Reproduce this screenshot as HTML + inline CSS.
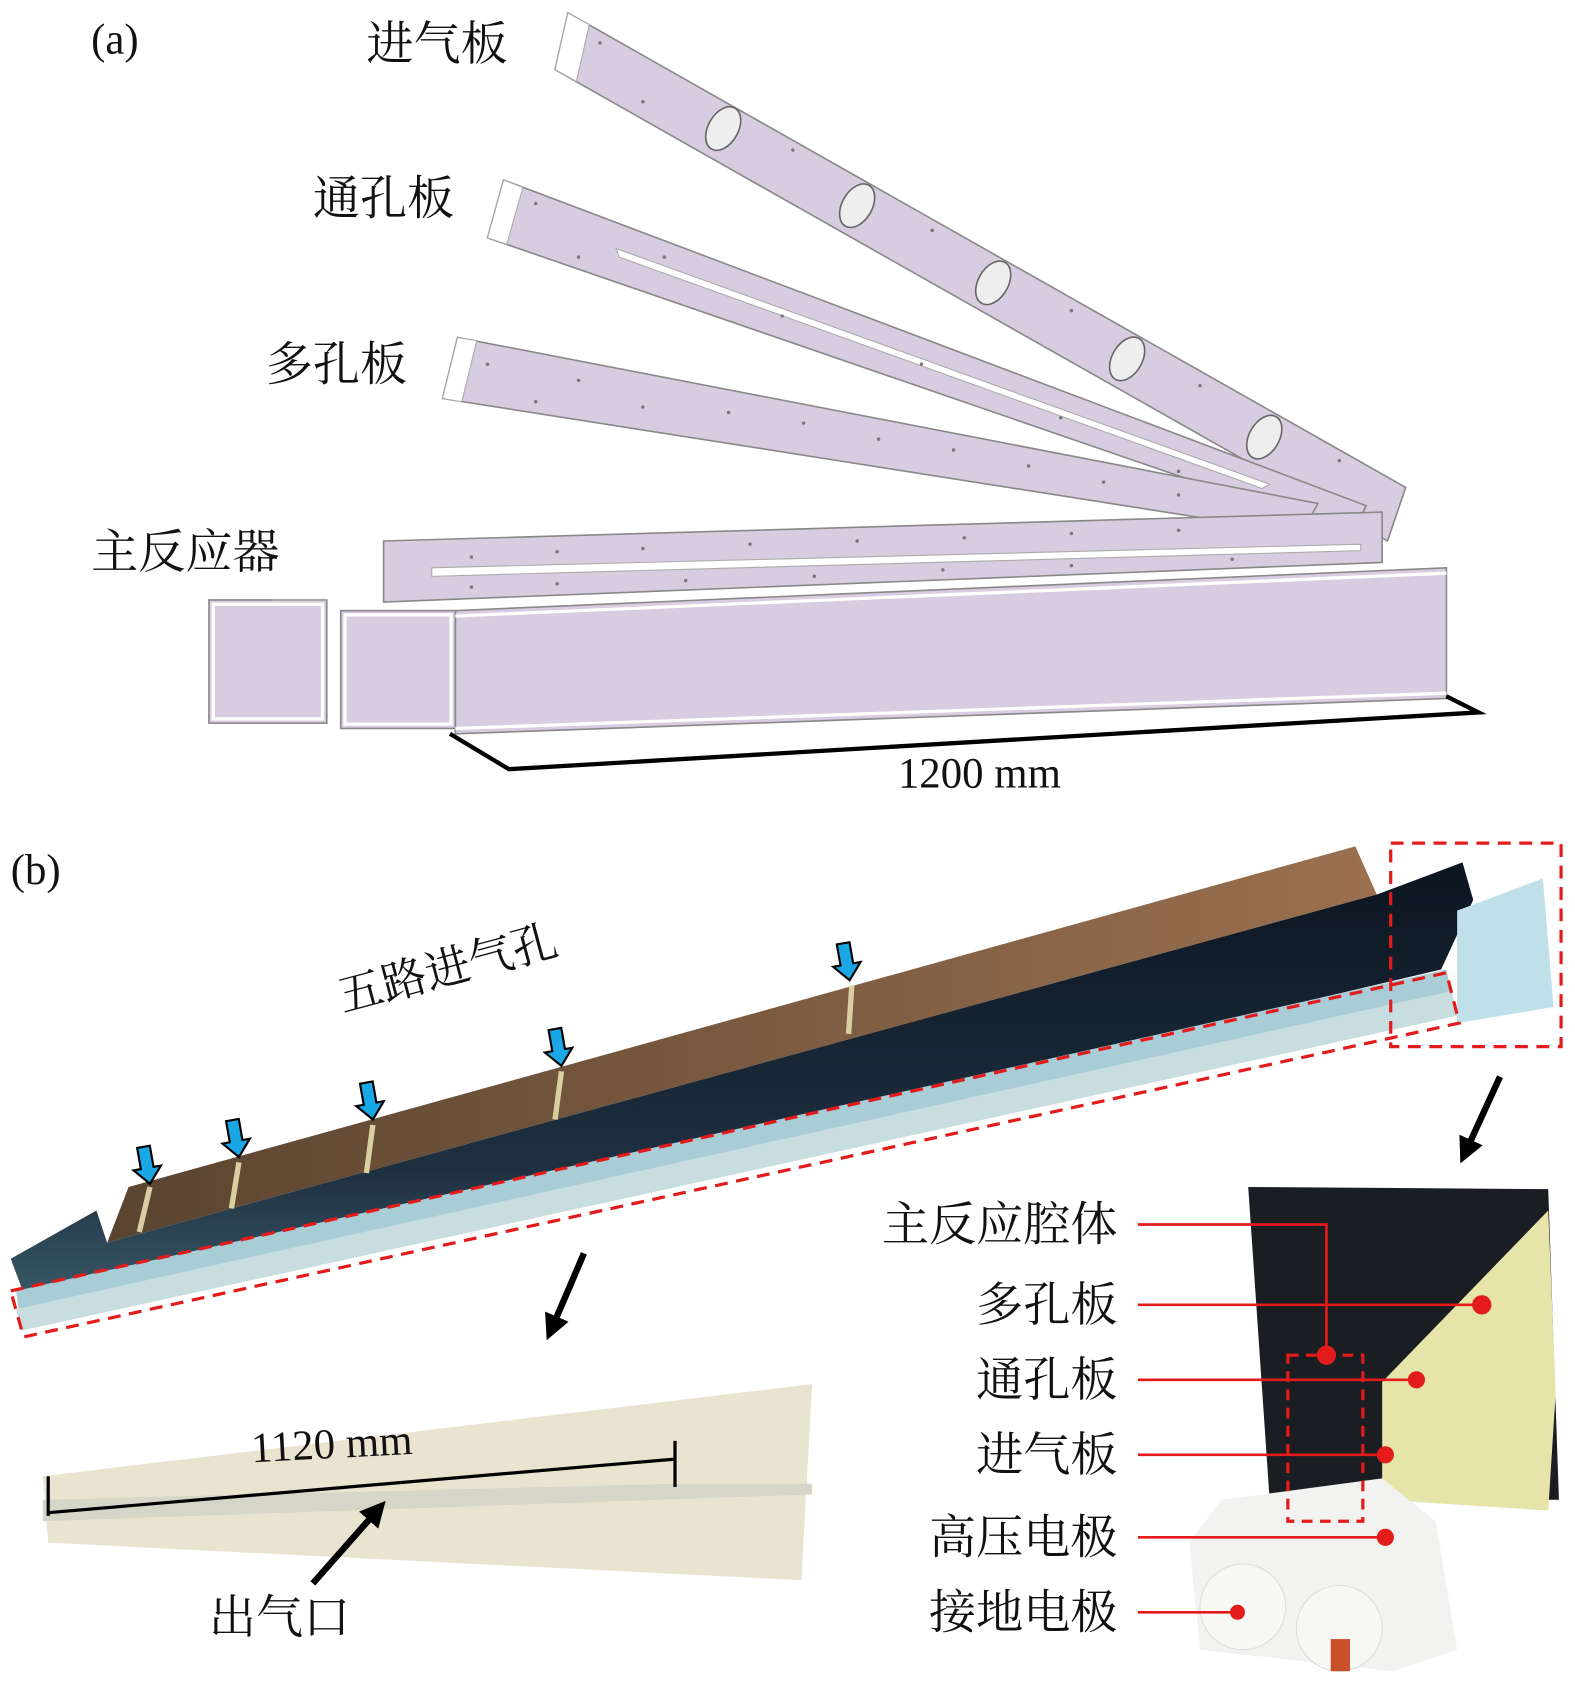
<!DOCTYPE html>
<html><head><meta charset="utf-8"><style>
html,body{margin:0;padding:0;background:#fff}
svg{display:block}
text{font-family:"Liberation Serif","Noto Serif CJK SC",serif;fill:#111}
</style></head><body>
<svg width="1575" height="1683" viewBox="0 0 1470 1571" preserveAspectRatio="none" xmlns="http://www.w3.org/2000/svg">
<defs>
<linearGradient id="blk" x1="0" y1="0" x2="0" y2="1"><stop offset="0" stop-color="#0c1520"/><stop offset="0.7" stop-color="#1e3040"/><stop offset="1" stop-color="#3a5a68"/></linearGradient>
<linearGradient id="cop" x1="0" y1="0" x2="1" y2="0"><stop offset="0" stop-color="#5a4430"/><stop offset="1" stop-color="#9a7050"/></linearGradient>
<marker id="ah" markerWidth="4" markerHeight="4" refX="2" refY="2" orient="auto" markerUnits="strokeWidth"><path d="M0,0 L4,2 L0,4 z" fill="#000"/></marker>
</defs>
<!-- (a) -->
<text x="85" y="50" font-size="40">(a)</text>
<text x="342" y="56" font-size="44">进气板</text>
<text x="292" y="200" font-size="44">通孔板</text>
<text x="248" y="355" font-size="44">多孔板</text>
<text x="85" y="530" font-size="44">主反应器</text>

<g stroke="#888" stroke-width="1.5" fill="#d8cde0">
<polygon points="530,12 1312,455 1295,505 518,65"/>
<polygon points="470,168 1275,472 1262,500 455,222"/>
<polygon points="427,315 1230,470 1215,498 413,372"/>
<polygon points="358,505 1290,478 1290,525 358,562"/>
<polygon points="425,570 1350,530 1350,652 425,685"/>
<rect x="195" y="560" width="110" height="115"/>
<rect x="318" y="570" width="107" height="110"/>
</g>
<g fill="none" stroke="#fff" stroke-width="3">
<rect x="199" y="564" width="102" height="107"/>
<rect x="322" y="574" width="99" height="102"/>
<line x1="425" y1="575" x2="1350" y2="535"/>
<line x1="425" y1="680" x2="1350" y2="647"/>
</g>
<g fill="#fff" stroke="#aaa">
<polygon points="530,12 550,23 538,76 518,65"/>
<polygon points="470,168 488,175 473,228 455,222"/>
<polygon points="427,315 445,318 431,375 413,372"/>
<polygon points="575,232 1185,452 1178,456 578,240"/>
<polygon points="403,530 1270,508 1270,514 403,538"/>
</g>
<g fill="#777">
<circle cx="560" cy="40" r="1.6"/><circle cx="600" cy="95" r="1.6"/><circle cx="740" cy="140" r="1.6"/><circle cx="870" cy="215" r="1.6"/><circle cx="1000" cy="290" r="1.6"/><circle cx="1120" cy="360" r="1.6"/><circle cx="1250" cy="430" r="1.6"/>
<circle cx="500" cy="190" r="1.6"/><circle cx="540" cy="240" r="1.6"/><circle cx="620" cy="240" r="1.6"/><circle cx="730" cy="295" r="1.6"/><circle cx="860" cy="340" r="1.6"/><circle cx="990" cy="390" r="1.6"/><circle cx="1100" cy="440" r="1.6"/>
<circle cx="455" cy="340" r="1.6"/><circle cx="500" cy="375" r="1.6"/><circle cx="540" cy="355" r="1.6"/><circle cx="600" cy="380" r="1.6"/><circle cx="680" cy="385" r="1.6"/><circle cx="750" cy="395" r="1.6"/><circle cx="820" cy="410" r="1.6"/><circle cx="890" cy="420" r="1.6"/><circle cx="960" cy="435" r="1.6"/><circle cx="1030" cy="450" r="1.6"/><circle cx="1100" cy="462" r="1.6"/>
<circle cx="440" cy="520" r="1.6"/><circle cx="520" cy="515" r="1.6"/><circle cx="600" cy="512" r="1.6"/><circle cx="700" cy="508" r="1.6"/><circle cx="800" cy="505" r="1.6"/><circle cx="900" cy="502" r="1.6"/><circle cx="1000" cy="498" r="1.6"/><circle cx="1100" cy="495" r="1.6"/>
<circle cx="440" cy="548" r="1.6"/><circle cx="520" cy="545" r="1.6"/><circle cx="640" cy="542" r="1.6"/><circle cx="760" cy="538" r="1.6"/><circle cx="880" cy="532" r="1.6"/><circle cx="1000" cy="528" r="1.6"/><circle cx="1150" cy="522" r="1.6"/>
</g>
<g fill="#eee" stroke="#666" stroke-width="1.5">
<ellipse cx="675" cy="120" rx="14" ry="22" transform="rotate(30 675 120)"/>
<ellipse cx="800" cy="192" rx="14" ry="22" transform="rotate(30 800 192)"/>
<ellipse cx="927" cy="264" rx="14" ry="22" transform="rotate(30 927 264)"/>
<ellipse cx="1052" cy="335" rx="14" ry="22" transform="rotate(30 1052 335)"/>
<ellipse cx="1180" cy="408" rx="14" ry="22" transform="rotate(30 1180 408)"/>
</g>
<polyline points="420,685 475,718 1380,665 1350,650" fill="none" stroke="#000" stroke-width="4"/>
<polyline points="305,560 255,560" fill="none" stroke="#aaa" stroke-width="2"/>
<text x="838" y="735" font-size="40">1200 mm</text>

<!-- (b) -->
<text x="10" y="825" font-size="40">(b)</text>
<polygon points="120,1108 1265,790 1285,835 100,1160" fill="url(#cop)"/>
<polygon points="10,1175 90,1130 100,1160 1285,835 1365,805 1375,840 1345,905 25,1215" fill="url(#blk)"/>
<polygon points="15,1205 1350,905 1360,948 20,1242" fill="#a9cdd6"/>
<polygon points="15,1222 1355,925 1360,948 20,1242" fill="#c8dde0"/>
<polygon points="1360,850 1440,820 1450,940 1360,955" fill="#bfe0e8"/>
<polygon points="10,1205 1350,908 1362,955 22,1248" fill="none" stroke="#e41b1b" stroke-width="3" stroke-dasharray="12,8"/>
<rect x="1298" y="787" width="159" height="190" fill="none" stroke="#e41b1b" stroke-width="3" stroke-dasharray="12,8"/>
<g stroke="#d8d0a0" stroke-width="5">
<line x1="140" y1="1108" x2="130" y2="1150"/><line x1="223" y1="1085" x2="216" y2="1128"/><line x1="348" y1="1050" x2="342" y2="1095"/><line x1="524" y1="1000" x2="518" y2="1045"/><line x1="795" y1="920" x2="792" y2="965"/>
</g>
<text x="0" y="0" font-size="42" transform="translate(320,945) rotate(-15)">五路进气孔</text>
<g fill="#19a7e6" stroke="#000" stroke-width="2">
<path d="M-6,-35 L6,-35 L6,-15 L13,-15 L0,0 L-13,-15 L-6,-15 z" transform="translate(140,1105) rotate(-10)"/>
<path d="M-6,-35 L6,-35 L6,-15 L13,-15 L0,0 L-13,-15 L-6,-15 z" transform="translate(223,1080) rotate(-10)"/>
<path d="M-6,-35 L6,-35 L6,-15 L13,-15 L0,0 L-13,-15 L-6,-15 z" transform="translate(348,1045) rotate(-10)"/>
<path d="M-6,-35 L6,-35 L6,-15 L13,-15 L0,0 L-13,-15 L-6,-15 z" transform="translate(524,995) rotate(-10)"/>
<path d="M-6,-35 L6,-35 L6,-15 L13,-15 L0,0 L-13,-15 L-6,-15 z" transform="translate(793,915) rotate(-10)"/>
</g>
<line x1="1400" y1="1005" x2="1368" y2="1075" stroke="#000" stroke-width="6" marker-end="url(#ah)"/>
<line x1="545" y1="1170" x2="515" y2="1240" stroke="#000" stroke-width="6" marker-end="url(#ah)"/>

<!-- bottom left photo -->
<polygon points="40,1378 758,1292 748,1475 45,1440" fill="#e8e4d0"/>
<polygon points="40,1400 630,1385 758,1385 758,1395 40,1420" fill="#d6d6c8"/>
<line x1="45" y1="1412" x2="630" y2="1362" stroke="#000" stroke-width="3"/>
<line x1="45" y1="1378" x2="45" y2="1415" stroke="#000" stroke-width="3"/>
<line x1="630" y1="1345" x2="630" y2="1388" stroke="#000" stroke-width="3"/>
<text x="0" y="0" font-size="40" transform="translate(235,1365) rotate(-3)">1120 mm</text>
<line x1="292" y1="1478" x2="352" y2="1410" stroke="#000" stroke-width="6" marker-end="url(#ah)"/>
<text x="195" y="1525" font-size="44">出气口</text>

<!-- bottom right photo -->
<polygon points="1165,1108 1445,1110 1455,1400 1290,1400 1290,1420 1185,1400" fill="#1a1d22"/>
<polygon points="1290,1290 1445,1130 1452,1300 1445,1410 1290,1400" fill="#e6e4a8"/>
<polygon points="1140,1400 1290,1380 1340,1420 1360,1540 1300,1560 1120,1540 1110,1440" fill="#f2f2f0"/>
<circle cx="1160" cy="1500" r="40" fill="#f7f7f5" stroke="#ddd"/>
<circle cx="1250" cy="1520" r="40" fill="#f7f7f5" stroke="#ddd"/>
<rect x="1242" y="1530" width="18" height="30" fill="#c8502a"/>
<rect x="1202" y="1265" width="70" height="155" fill="none" stroke="#e41b1b" stroke-width="3" stroke-dasharray="10,7"/>
<g stroke="#e41b1b" stroke-width="2.5" fill="none">
<polyline points="1062,1143 1238,1143 1238,1265"/>
<line x1="1062" y1="1218" x2="1383" y2="1218"/>
<line x1="1062" y1="1288" x2="1322" y2="1288"/>
<line x1="1062" y1="1358" x2="1293" y2="1358"/>
<line x1="1062" y1="1435" x2="1293" y2="1435"/>
<line x1="1062" y1="1505" x2="1155" y2="1505"/>
</g>
<g fill="#e41b1b">
<circle cx="1238" cy="1265" r="9"/><circle cx="1383" cy="1218" r="9"/><circle cx="1322" cy="1288" r="8"/>
<circle cx="1293" cy="1358" r="8"/><circle cx="1293" cy="1435" r="8"/><circle cx="1155" cy="1505" r="7"/>
</g>
<g font-size="44" text-anchor="end">
<text x="1043" y="1158">主反应腔体</text>
<text x="1043" y="1233">多孔板</text>
<text x="1043" y="1303">通孔板</text>
<text x="1043" y="1373">进气板</text>
<text x="1043" y="1450">高压电极</text>
<text x="1043" y="1520">接地电极</text>
</g>
</svg>
</body></html>
